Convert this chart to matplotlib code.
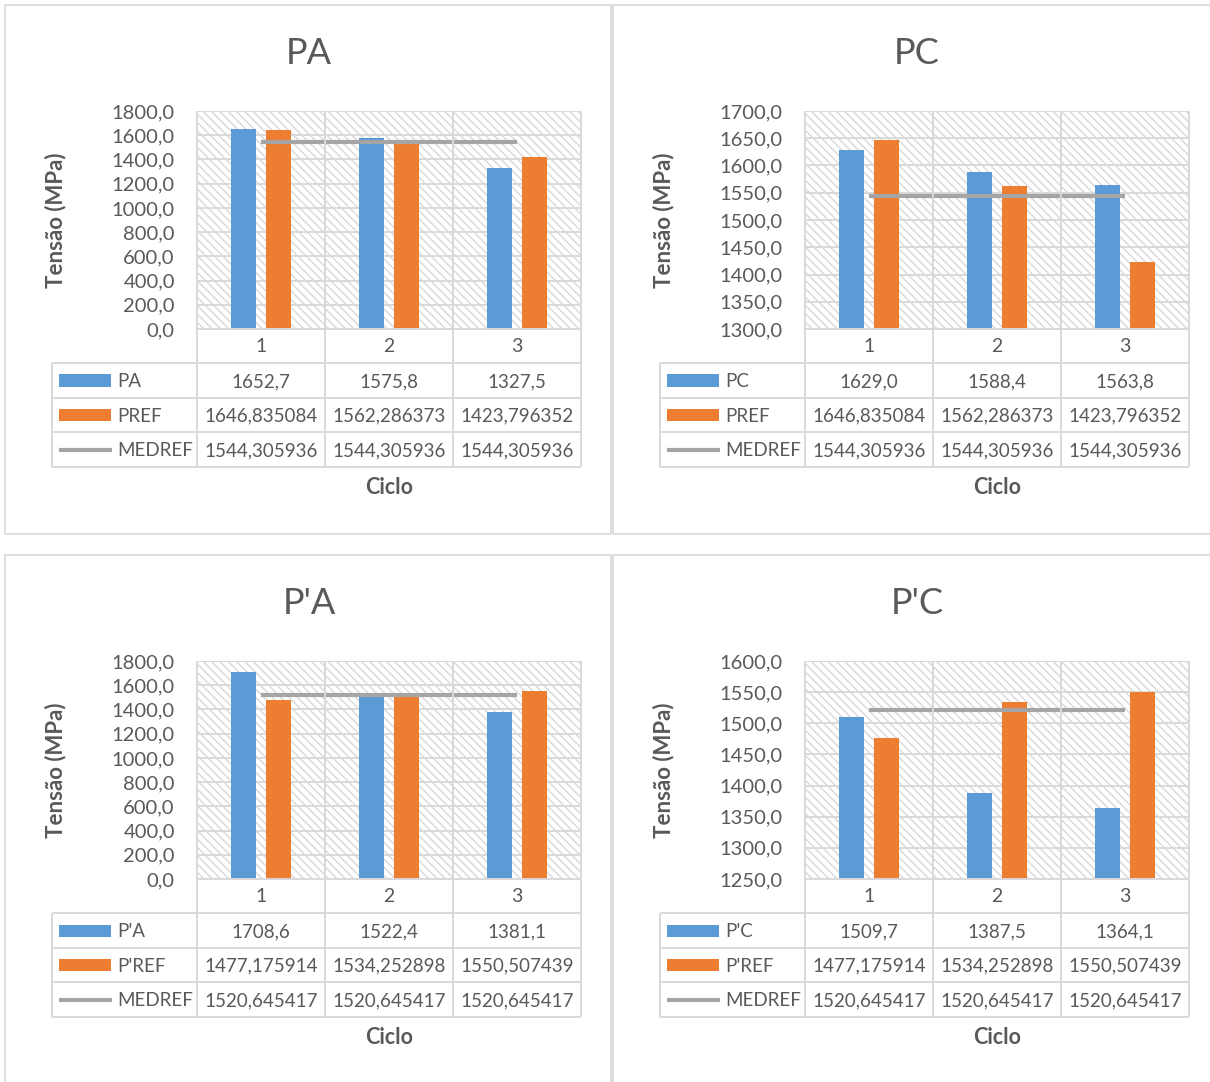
import numpy as np
import matplotlib
matplotlib.use("Agg")
import matplotlib.pyplot as plt
from matplotlib.patches import Rectangle
from matplotlib.lines import Line2D

plt.rcParams['font.family'] = ['Lato', 'DejaVu Sans']
plt.rcParams['hatch.linewidth'] = 1.0

# ---- data ----
cycles = ['1', '2', '3']

pa = [1652.7, 1575.8, 1327.5]
pc = [1629.0, 1588.4, 1563.8]
pref = [1646.835084, 1562.286373, 1423.796352]
medref_p = [1544.305936, 1544.305936, 1544.305936]

pla = [1708.6, 1522.4, 1381.1]
plc = [1509.7, 1387.5, 1364.1]
plref = [1477.175914, 1534.252898, 1550.507439]
medref_pl = [1520.645417, 1520.645417, 1520.645417]

# ---- style ----
BLUE = '#5B9BD5'
ORANGE = '#ED7D31'
GRAY = '#A5A5A5'
GRID = '#D9D9D9'
TXT = '#595959'

W, H = 1210, 1082
fig = plt.figure(figsize=(W / 100, H / 100), dpi=100)


def P(x, y):
    return x / W, 1 - y / H


def fline(x0, y0, x1, y1, color=GRID, lw=1.4):
    (a, b), (c, d) = P(x0, y0), P(x1, y1)
    fig.add_artist(Line2D([a, c], [b, d], transform=fig.transFigure,
                          color=color, lw=lw, solid_capstyle='butt'))


def ftext(x, y, s, **kw):
    fx, fy = P(x, y)
    fig.text(fx, fy, s, color=TXT, **kw)


def fmt(v, nd):
    return f"{v:.{nd}f}".replace('.', ',')


def panel(ox, oy, title, meas, meas_name, ref, ref_name, med, lo, hi, step):
    # outer chart border
    b0 = P(ox + 5, oy + 534)
    fig.add_artist(Rectangle(b0, 606 / W, 529 / H, transform=fig.transFigure,
                             facecolor='none', edgecolor=GRID, lw=1.2))

    # plot area
    px0, px1, py0, py1 = ox + 197, ox + 581, oy + 111, oy + 329
    ax = fig.add_axes([px0 / W, 1 - py1 / H, (px1 - px0) / W, (py1 - py0) / H])
    ax.set_xlim(0, 3)
    ax.set_ylim(lo, hi)
    ax.add_patch(Rectangle((0, 0), 1, 1, transform=ax.transAxes,
                           facecolor='white', edgecolor='#D8D8D8',
                           hatch='\\\\\\\\', lw=0, zorder=0))
    ticks = np.arange(lo, hi + step / 2, step)
    for t in ticks:
        ax.axhline(t, color=GRID, lw=1.4, zorder=1)
    for xv in range(4):
        ax.axvline(xv, color=GRID, lw=1.4, zorder=1)

    xs = np.arange(3) + 0.5
    off, bw = 0.14, 0.195
    ax.bar(xs - off, meas, width=bw, color=BLUE, zorder=3)
    ax.bar(xs + off, ref, width=bw, color=ORANGE, zorder=3)
    ax.plot(xs, med, color=GRAY, lw=3, zorder=4, solid_capstyle='butt')

    ax.set_yticks(ticks)
    ax.set_yticklabels([fmt(t, 1) for t in ticks])
    ax.set_xticks([])
    ax.tick_params(axis='y', length=0, pad=16, labelsize=14.5, labelcolor=TXT)
    for sp in ax.spines.values():
        sp.set_visible(False)

    # data table
    cols = [ox + 197, ox + 325, ox + 453, ox + 581]
    rows = [oy + 363, oy + 398, oy + 432, oy + 467]
    for c in cols:
        fline(c, py0, c, rows[-1])
    fline(ox + 52, rows[0], ox + 52, rows[-1])
    fline(px0, py1, px1, py1)
    for r in rows:
        fline(ox + 52, r, px1, r)

    centers = [(cols[i] + cols[i + 1]) / 2 for i in range(3)]
    for c, lab in zip(centers, cycles):
        ftext(c, oy + 347, lab, ha='center', va='center', fontsize=14)

    rc = [(rows[i] + rows[i + 1]) / 2 for i in range(3)]
    series = [(meas_name, meas, 1), (ref_name, ref, 6), ('MEDREF', med, 6)]
    for k, (name, vals, nd) in enumerate(series):
        for c, v in zip(centers, vals):
            ftext(c, rc[k] + 1, fmt(v, nd), ha='center', va='center', fontsize=13.5)
        ftext(ox + 117, rc[k] + 1, name, ha='left', va='center', fontsize=13.5)

    # legend keys
    k0 = P(ox + 59, rc[0] + 6)
    fig.add_artist(Rectangle(k0, 52 / W, 12 / H, transform=fig.transFigure,
                             facecolor=BLUE, edgecolor='none'))
    k1 = P(ox + 59, rc[1] + 6)
    fig.add_artist(Rectangle(k1, 52 / W, 12 / H, transform=fig.transFigure,
                             facecolor=ORANGE, edgecolor='none'))
    fline(ox + 59, rc[2], ox + 112, rc[2], color=GRAY, lw=3)

    # titles
    ftext(ox + 309, oy + 53, title, ha='center', va='center', fontsize=26)
    ftext(ox + 56, (py0 + py1) / 2, 'Tensão (MPa)', ha='center', va='center',
          rotation=90, fontsize=16, fontweight='bold')
    ftext(ox + 389, oy + 488, 'Ciclo', ha='center', va='center',
          fontsize=15.5, fontweight='bold')


panel(0, 0, 'PA', pa, 'PA', pref, 'PREF', medref_p, 0, 1800, 200)
panel(608, 0, 'PC', pc, 'PC', pref, 'PREF', medref_p, 1300, 1700, 50)
panel(0, 550, "P'A", pla, "P'A", plref, "P'REF", medref_pl, 0, 1800, 200)
panel(608, 550, "P'C", plc, "P'C", plref, "P'REF", medref_pl, 1250, 1600, 50)

fig.savefig('out.png', dpi=100, facecolor='white')
